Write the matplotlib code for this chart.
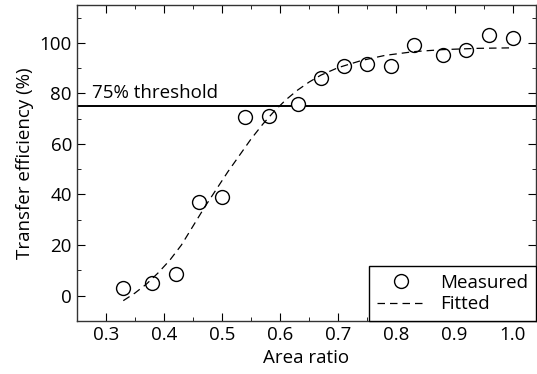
import matplotlib.pyplot as plt
from matplotlib.ticker import MultipleLocator

# measured points
area_ratio = [0.33, 0.38, 0.42, 0.46, 0.50, 0.54, 0.58, 0.63, 0.67, 0.71, 0.75, 0.79, 0.83, 0.88, 0.92, 0.96, 1.00]
efficiency = [2.9, 4.9, 8.7, 37.0, 39.2, 70.6, 71.0, 75.7, 85.9, 91.0, 91.8, 90.9, 99.0, 95.2, 97.1, 103.2, 101.7]

# fitted curve
fit_x = [0.33, 0.35, 0.37, 0.39, 0.41, 0.43, 0.45, 0.47, 0.49, 0.51, 0.53, 0.55, 0.57,
         0.59, 0.61, 0.63, 0.65, 0.67, 0.70, 0.74, 0.78, 0.83, 0.88, 0.94, 1.00]
fit_y = [-2.0, 1.0, 4.6, 9.0, 14.0, 20.0, 27.5, 35.0, 42.0, 49.0, 55.5, 62.0, 67.8,
         73.0, 77.5, 81.3, 84.5, 87.2, 90.2, 93.0, 95.0, 96.5, 97.3, 97.8, 98.0]

threshold = 75

plt.rcParams['font.family'] = ['Open Sans', 'DejaVu Sans']
plt.rcParams['font.size'] = 13.5

fig = plt.figure(figsize=(5.37, 3.74), dpi=100)
ax = fig.add_axes([0.143, 0.142, 0.855, 0.845])

ax.axhline(threshold, color='black', lw=1.4)
ax.text(0.276, 76.5, '75% threshold', ha='left', va='bottom')

ax.plot(area_ratio, efficiency, 'o', mfc='white', mec='black', ms=10, mew=1.0, label='Measured')
ax.plot(fit_x, fit_y, '--', color='black', lw=0.9, dashes=(6, 4), label='Fitted')

ax.set_xlim(0.25, 1.04)
ax.set_ylim(-10, 115)
ax.xaxis.set_minor_locator(MultipleLocator(0.05))
ax.yaxis.set_minor_locator(MultipleLocator(10))
ax.set_xticks([0.3, 0.4, 0.5, 0.6, 0.7, 0.8, 0.9, 1.0])
ax.set_xticklabels(['0.3', '0.4', '0.5', '0.6', '0.7', '0.8', '0.9', '1.0'])
ax.set_yticks([0, 20, 40, 60, 80, 100])
ax.tick_params(which='both', direction='in', top=True, right=True)
ax.tick_params(which='major', length=6)
ax.tick_params(which='minor', length=3)
for s in ax.spines.values():
    s.set_color('#333333')
    s.set_linewidth(1.0)

ax.set_xlabel('Area ratio')
ax.set_ylabel('Transfer efficiency (%)')

leg = ax.legend(loc='lower right', borderaxespad=0, fancybox=False, edgecolor='black',
                framealpha=1, handlelength=2.6, labelspacing=0.2)
leg.get_frame().set_linewidth(1.0)

plt.savefig('out.png', dpi=100)
plt.close()
